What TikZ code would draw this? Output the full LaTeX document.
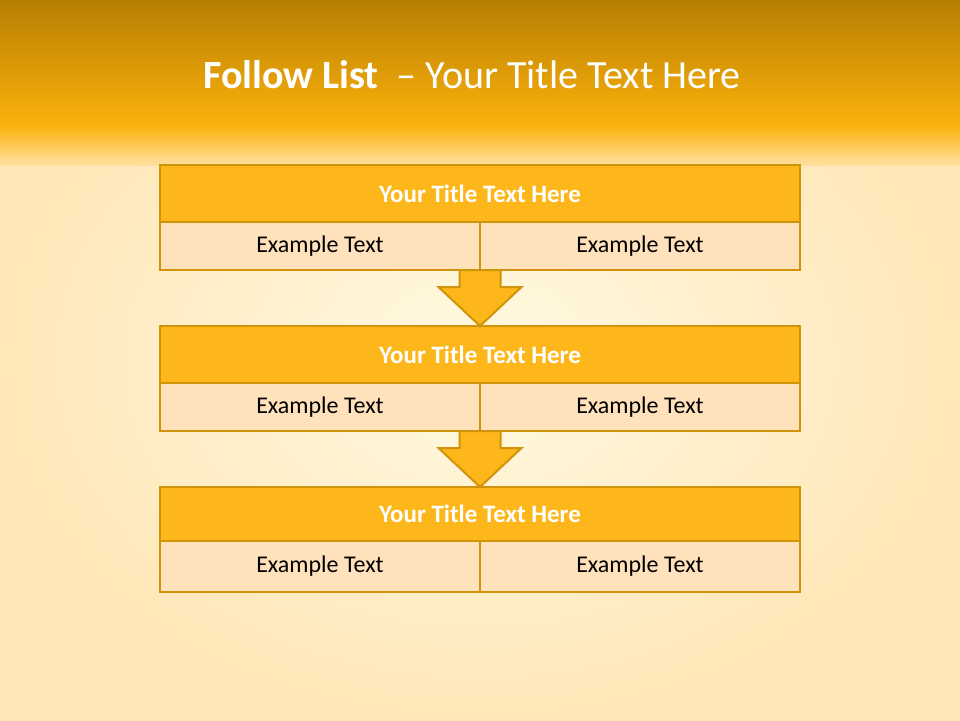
\documentclass[tikz,border=0pt]{standalone}
\usepackage{fontspec}
\setmainfont{Carlito}
\usetikzlibrary{positioning}
\usetikzlibrary{calc}
\definecolor{bandtop}{RGB}{183,126,2}
\definecolor{bandlow}{RGB}{251,178,12}
\definecolor{bgpale}{RGB}{255,249,226}
\definecolor{bgedge}{RGB}{255,231,184}
\definecolor{bgfade}{RGB}{255,224,160}
\definecolor{boxline}{RGB}{208,148,10}
\definecolor{boxtitle}{RGB}{253,183,26}
\definecolor{boxcell}{RGB}{255,226,187}
\tikzset{
  headbox/.style={draw=boxline, line width=2.8pt, fill=boxtitle, minimum width=640pt, inner sep=0pt, outer sep=0pt, text=white, font=\fontsize{25}{29}\selectfont\bfseries},
  cellbox/.style={draw=boxline, line width=2.8pt, fill=boxcell, minimum width=320pt, inner sep=0pt, outer sep=0pt, font=\fontsize{24}{28}\selectfont},
  downarrow/.style={draw=boxline, line width=2pt, fill=boxtitle, line join=miter}
}

\begin{document}
\begin{tikzpicture}[x=1pt, y=-1pt]
  \useasboundingbox (0,0) rectangle (960,720);
  % background
  \shade[inner color=bgpale, outer color=bgedge] (0,0) rectangle (960,720);
  \shade[top color=bandtop, bottom color=bandlow] (0,0) rectangle (960,126);
  \shade[top color=bandlow, bottom color=bgfade] (0,125.5) rectangle (960,165);
  \node[text=white, font=\fontsize{40}{44}\selectfont] (slidetitle) at (472,75) {\textbf{Follow List}\ \ -- Your Title Text Here};

  % the three boxes
  \foreach \i/\y/\hhead/\hcell in {1/165/57/48, 2/326/57/48, 3/487/54/51} {
    \node[headbox, minimum height=\hhead pt, anchor=north] (head\i) at (480,\y) {Your Title Text Here};
    \node[cellbox, minimum height=\hcell pt, anchor=north east] (left\i) at (head\i.south) {Example Text};
    \node[cellbox, minimum height=\hcell pt, anchor=north west] (right\i) at (head\i.south) {Example Text};
  }

  % block arrows
  \foreach \i/\j in {1/2, 2/3} {
    \draw[downarrow] ($(left\i.south east)+(-20.5,0)$) -- ++(0,17) -- ++(-21,0)
      -- (head\j.north) -- ++(41.5,-39) -- ++(-21,0) -- ++(0,-17) -- cycle;
  }
\end{tikzpicture}
\end{document}
